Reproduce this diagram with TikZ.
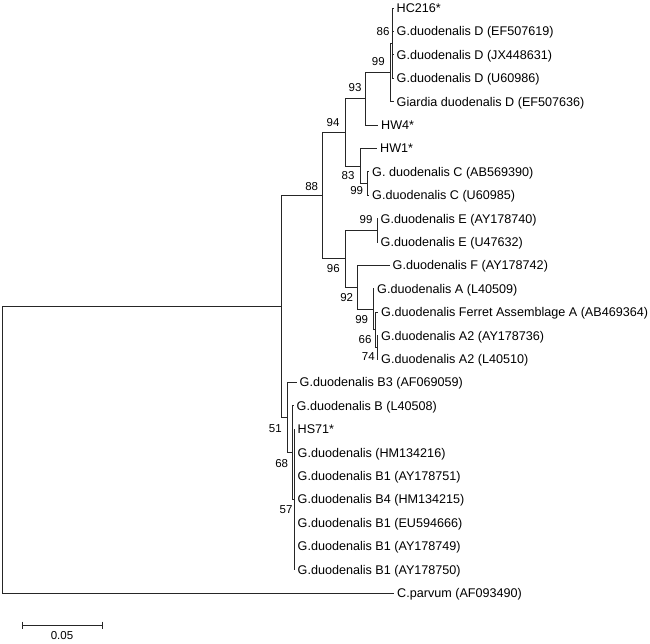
\documentclass[tikz,border=0pt]{standalone}
\usepackage{fontspec}
\setmainfont{Liberation Sans}
\begin{document}
\begin{tikzpicture}[x=1pt,y=-1pt,
  br/.style={line width=0.9pt, draw=black!85},
  leaf/.style={anchor=base west, inner sep=0pt, xshift=3pt, yshift=-4.5pt, font=\fontsize{12.6}{14}\selectfont},
  bs/.style={inner sep=0pt, font=\fontsize{11.5}{13}\selectfont}]
\useasboundingbox (0,0) rectangle (650,643);
% internal nodes
\coordinate (n86) at (392,43.1);
\coordinate (n99D) at (390,72.4);
\coordinate (n93) at (365,98.7);
\coordinate (n99C) at (367,183.5);
\coordinate (n83) at (360,166);
\coordinate (n94) at (345,132.3);
\coordinate (n99E) at (377,230.3);
\coordinate (n74) at (377.3,347.3);
\coordinate (n66) at (375.5,329.8);
\coordinate (n99A) at (373.3,309.3);
\coordinate (n92) at (357,287.3);
\coordinate (n96) at (345,258.8);
\coordinate (n88) at (322,195.6);
\coordinate (n57) at (294,499.4);
\coordinate (n68) at (292.8,452.6);
\coordinate (n51) at (287,417.5);
\coordinate (nX) at (281.5,306.6);
\coordinate (root) at (2,449.8);
% leaf tips
\coordinate (l1) at (393.5,8);
\coordinate (l2) at (393.5,31.4);
\coordinate (l3) at (393.5,54.8);
\coordinate (l4) at (393.5,78.2);
\coordinate (l5) at (393.5,101.6);
\coordinate (l6) at (378,125);
\coordinate (l7) at (377,148.4);
\coordinate (l8) at (369,171.8);
\coordinate (l9) at (369,195.2);
\coordinate (l10) at (377.5,218.6);
\coordinate (l11) at (377.5,242);
\coordinate (l12) at (389.5,265.4);
\coordinate (l13) at (374,288.8);
\coordinate (l14) at (378,312.2);
\coordinate (l15) at (378,335.6);
\coordinate (l16) at (378,359);
\coordinate (l17) at (296.5,382.4);
\coordinate (l18) at (293.5,405.8);
\coordinate (l19) at (294.5,429.2);
\coordinate (l20) at (294.5,452.6);
\coordinate (l21) at (294.5,476);
\coordinate (l22) at (294.5,499.4);
\coordinate (l23) at (294.5,522.8);
\coordinate (l24) at (294.5,546.2);
\coordinate (l25) at (294.5,569.6);
\coordinate (l26) at (394,593);
% branches
\draw[br] (root) |- (nX);
\draw[br] (root) |- (l26);
\draw[br] (nX) |- (n88);
\draw[br] (nX) |- (n51);
\draw[br] (n88) |- (n94);
\draw[br] (n88) |- (n96);
\draw[br] (n94) |- (n93);
\draw[br] (n94) |- (n83);
\draw[br] (n93) |- (n99D);
\draw[br] (n93) |- (l6);
\draw[br] (n99D) |- (n86);
\draw[br] (n99D) |- (l5);
\draw[br] (n86) |- (l1);
\draw[br] (n86) |- (l2);
\draw[br] (n86) |- (l3);
\draw[br] (n86) |- (l4);
\draw[br] (n83) |- (l7);
\draw[br] (n83) |- (n99C);
\draw[br] (n99C) |- (l8);
\draw[br] (n99C) |- (l9);
\draw[br] (n96) |- (n99E);
\draw[br] (n96) |- (n92);
\draw[br] (n99E) |- (l10);
\draw[br] (n99E) |- (l11);
\draw[br] (n92) |- (l12);
\draw[br] (n92) |- (n99A);
\draw[br] (n99A) |- (l13);
\draw[br] (n99A) |- (n66);
\draw[br] (n66) |- (l14);
\draw[br] (n66) |- (n74);
\draw[br] (n74) |- (l15);
\draw[br] (n74) |- (l16);
\draw[br] (n51) |- (l17);
\draw[br] (n51) |- (n68);
\draw[br] (n68) |- (l18);
\draw[br] (n68) |- (n57);
\draw[br] (n57) |- (l19);
\draw[br] (n57) |- (l20);
\draw[br] (n57) |- (l21);
\draw[br] (n57) |- (l22);
\draw[br] (n57) |- (l23);
\draw[br] (n57) |- (l24);
\draw[br] (n57) |- (l25);
% leaf labels
\node[leaf] (t1) at (l1) {HC216*};
\node[leaf] (t2) at (l2) {G.duodenalis D (EF507619)};
\node[leaf] (t3) at (l3) {G.duodenalis D (JX448631)};
\node[leaf] (t4) at (l4) {G.duodenalis D (U60986)};
\node[leaf] (t5) at (l5) {Giardia duodenalis D (EF507636)};
\node[leaf] (t6) at (l6) {HW4*};
\node[leaf] (t7) at (l7) {HW1*};
\node[leaf] (t8) at (l8) {G. duodenalis C (AB569390)};
\node[leaf] (t9) at (l9) {G.duodenalis C (U60985)};
\node[leaf] (t10) at (l10) {G.duodenalis E (AY178740)};
\node[leaf] (t11) at (l11) {G.duodenalis E (U47632)};
\node[leaf] (t12) at (l12) {G.duodenalis F (AY178742)};
\node[leaf] (t13) at (l13) {G.duodenalis A (L40509)};
\node[leaf] (t14) at (l14) {G.duodenalis Ferret Assemblage A (AB469364)};
\node[leaf] (t15) at (l15) {G.duodenalis A2 (AY178736)};
\node[leaf] (t16) at (l16) {G.duodenalis A2 (L40510)};
\node[leaf] (t17) at (l17) {G.duodenalis B3 (AF069059)};
\node[leaf] (t18) at (l18) {G.duodenalis B (L40508)};
\node[leaf] (t19) at (l19) {HS71*};
\node[leaf] (t20) at (l20) {G.duodenalis (HM134216)};
\node[leaf] (t21) at (l21) {G.duodenalis B1 (AY178751)};
\node[leaf] (t22) at (l22) {G.duodenalis B4 (HM134215)};
\node[leaf] (t23) at (l23) {G.duodenalis B1 (EU594666)};
\node[leaf] (t24) at (l24) {G.duodenalis B1 (AY178749)};
\node[leaf] (t25) at (l25) {G.duodenalis B1 (AY178750)};
\node[leaf] (t26) at (l26) {C.parvum (AF093490)};
% bootstrap values
\node[bs] (b86) at (383,32) {86};
\node[bs] (b99D) at (378.3,61.7) {99};
\node[bs] (b93) at (355,88) {93};
\node[bs] (b94) at (333,123) {94};
\node[bs] (b88) at (311.7,186.7) {88};
\node[bs] (b83) at (348,176) {83};
\node[bs] (b99C) at (356.7,190.7) {99};
\node[bs] (b99E) at (366,219.3) {99};
\node[bs] (b96) at (333.3,269) {96};
\node[bs] (b92) at (346.7,297.3) {92};
\node[bs] (b99A) at (361.7,320) {99};
\node[bs] (b66) at (365,340) {66};
\node[bs] (b74) at (368.3,356.7) {74};
\node[bs] (b51) at (275.3,428.3) {51};
\node[bs] (b68) at (281.7,463.3) {68};
\node[bs] (b57) at (286,510) {57};
% scale bar
\coordinate (s1) at (22,625);
\coordinate (s2) at (102,625);
\draw[br] (s1) -- (s2);
\draw[br] ([yshift=3.5pt]s1) -- ([yshift=-3.5pt]s1);
\draw[br] ([yshift=3.5pt]s2) -- ([yshift=-3.5pt]s2);
\node[bs] (sl) at (62,636) {0.05};
\end{tikzpicture}
\end{document}
